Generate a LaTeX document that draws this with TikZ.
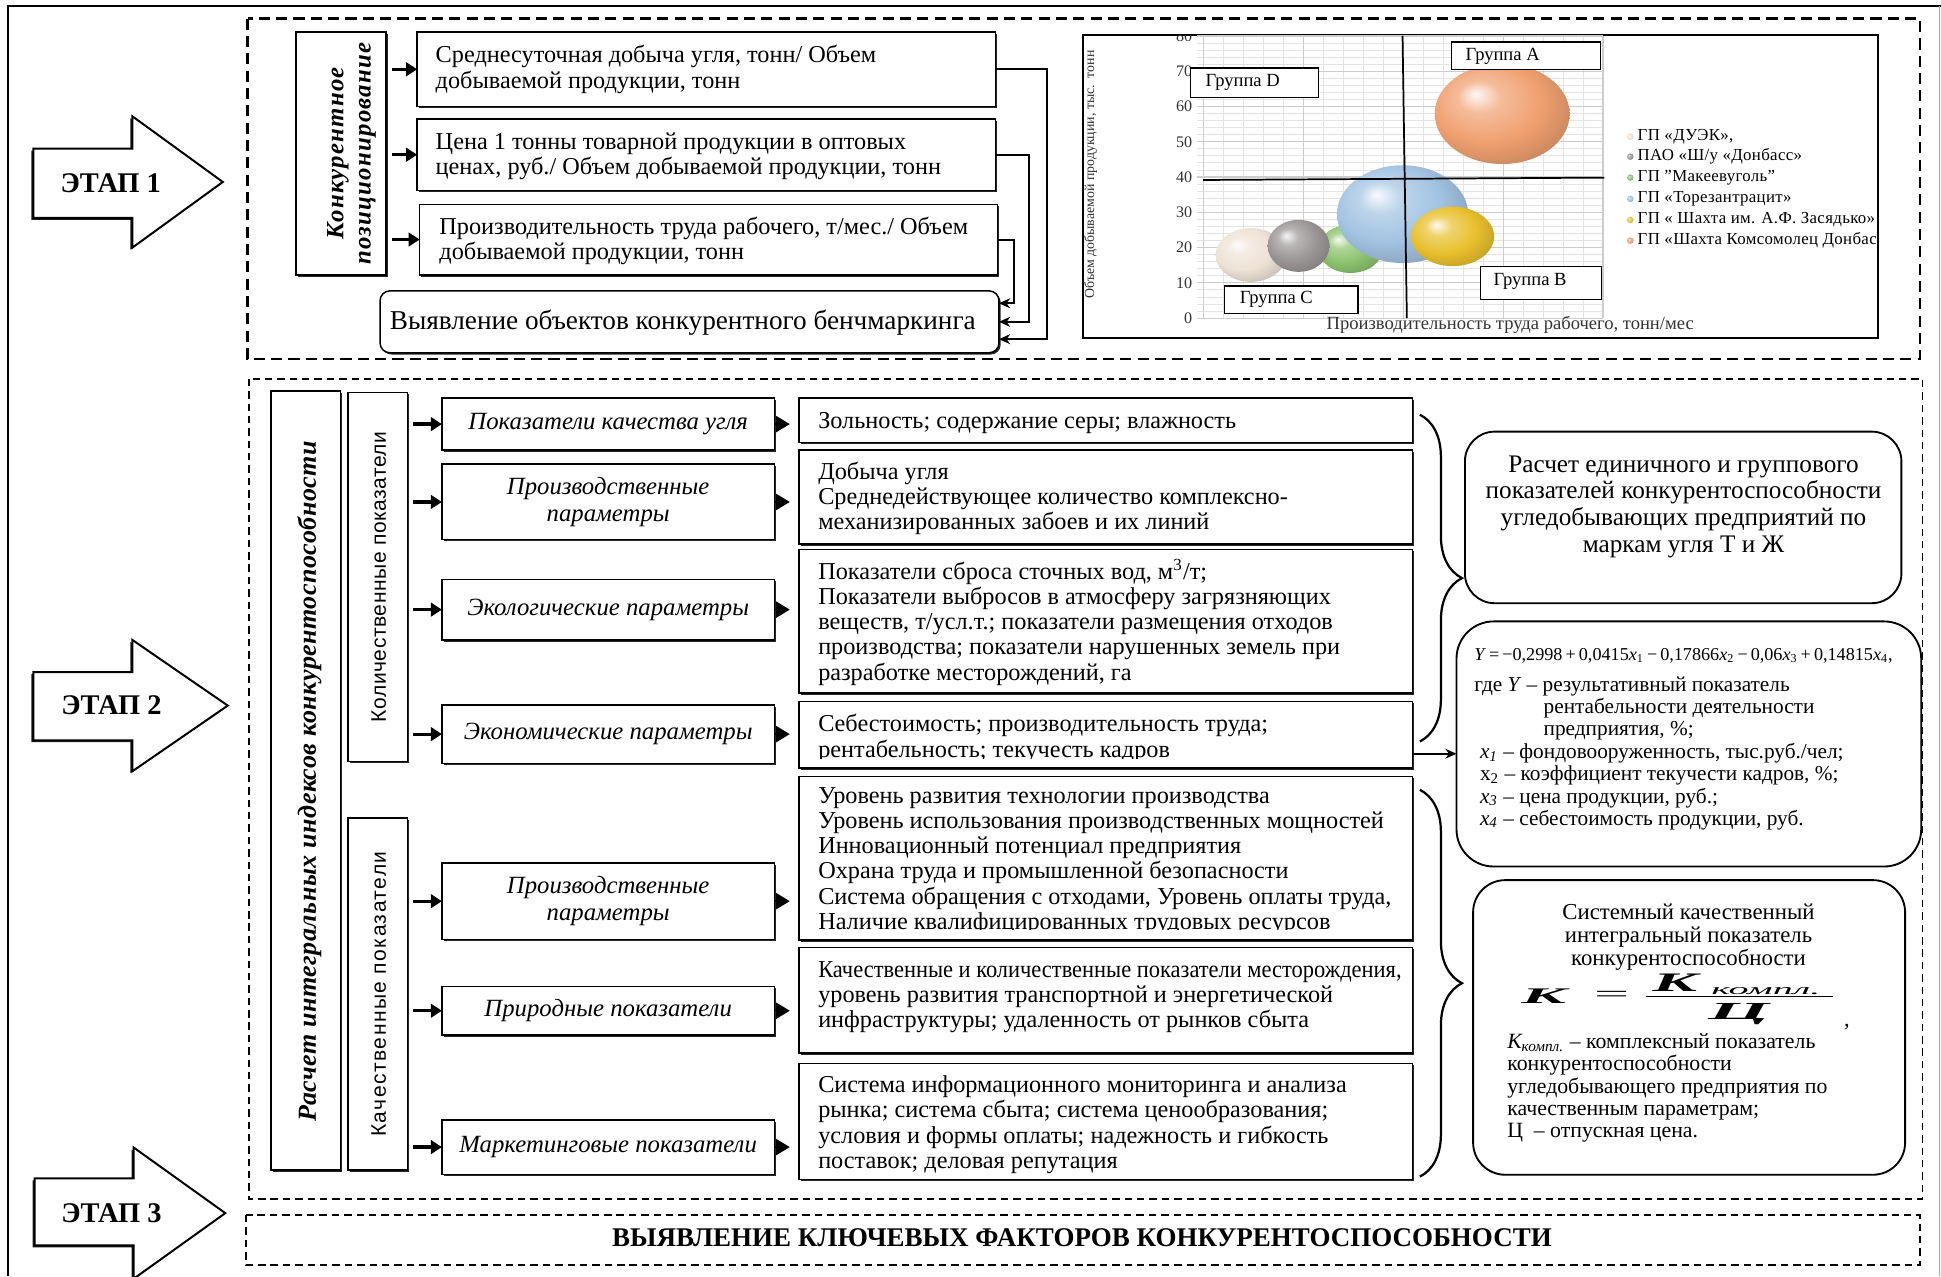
\documentclass[tikz,border=0pt]{standalone}
\usepackage{fontspec}
\setmainfont{Liberation Serif}
\setsansfont{Liberation Sans}
\usepackage{graphicx}
\usetikzlibrary{arrows.meta,shadows,decorations.pathreplacing,calc}
\newcommand\fs[2]{\fontsize{#1}{#2}\selectfont}
\newcommand\rectnode[7]{%
  \pgfmathsetmacro\rnX{(#3+#5)/2}%
  \pgfmathsetmacro\rnY{(#4+#6)/2}%
  \pgfmathsetmacro\rnW{(#5-#3)/2}%
  \pgfmathsetmacro\rnH{(#6-#4)/2}%
  \node[#2, minimum width=\rnW pt, minimum height=\rnH pt] (#1) at (\rnX,\rnY) {#7};}
\makeatletter
\pgfdeclareradialshading[tikz@ball]{softball}{\pgfqpoint{-10bp}{10bp}}{%
  color(0bp)=(tikz@ball!8!white); color(8bp)=(tikz@ball!70!white);
  color(20bp)=(tikz@ball); color(30bp)=(tikz@ball!86!black); color(50bp)=(tikz@ball!62!black)}
\tikzset{bubble/.code={\colorlet{tikz@ball}{#1}\tikzset{shade,shading=softball}}}
\makeatother
\definecolor{bwhite}{RGB}{238,226,214}
\definecolor{bgrey}{RGB}{155,150,150}
\definecolor{bgreen}{RGB}{140,195,110}
\definecolor{bblue}{RGB}{162,195,226}
\definecolor{byellow}{RGB}{232,192,45}
\definecolor{borange}{RGB}{240,160,112}
\definecolor{gridc}{RGB}{228,228,228}
\definecolor{gridm}{RGB}{205,205,205}
\begin{document}
\begin{tikzpicture}[x=0.5pt,y=-0.5pt,
  every node/.style={inner sep=0pt,outer sep=0pt},
  stagedash/.style={line width=0.9pt,dash pattern=on 4.5pt off 2.5pt},
  stagedashb/.style={line width=0.7pt,dash pattern=on 3pt off 2pt},
  pbox/.style={draw,line width=0.6pt,fill=white,drop shadow={shadow xshift=0.7pt,shadow yshift=-0.7pt,fill=black,opacity=0.85}},
  rbox/.style={draw,line width=0.75pt,fill=white},
  body/.style={font=\fs{9.8}{10.2},align=left},
  ital/.style={font=\fs{10}{11}\itshape,align=center},
  sarrow/.style={line width=1.3pt,-{Triangle[length=4.5pt,width=5.5pt]},shorten <=2.5pt},
  tri/.style={line width=0.6pt,-{Triangle[length=5.5pt,width=6.5pt]},shorten >=3.8pt},
  conn/.style={line width=0.8pt,-{Stealth[length=4.5pt,width=4pt]}},
  stagearrow/.style={draw,line width=0.8pt,fill=white,drop shadow={shadow xshift=-0.8pt,shadow yshift=-0.8pt,fill=black,opacity=0.9}},
  stagelabel/.style={font=\fs{11.5}{12}\bfseries},
  gbox/.style={draw,line width=0.5pt,fill=white},
  gtext/.style={font=\fs{7.5}{8}},
  legtext/.style={font=\fs{6.8}{7}\addfontfeature{LetterSpace=2},anchor=west},
  ftext/.style={font=\fs{8.6}{9},align=left,anchor=west}
]
\useasboundingbox (0,0) rectangle (1568,1031);
% outer frame
\draw[line width=0.8pt] (6.5,1031) -- (6.5,4.8) -- (1568,4.8);
\draw[black!35,line width=0.4pt] (1567,4.8) -- (1567,1031);

% stage arrows
\path[stagearrow] (27,120) -- (107,120) -- (107,94) -- (180,147) -- (107,200) -- (107,176) -- (27,176) -- cycle;
\node[stagelabel] (e1) at (89.5,148) {ЭТАП 1};
\path[stagearrow] (27,543) -- (107,543) -- (107,517) -- (184,570) -- (107,623) -- (107,598) -- (27,598) -- cycle;
\node[stagelabel] (e2) at (90,570) {ЭТАП 2};
\path[stagearrow] (28,952) -- (108,952) -- (108,927) -- (182,980) -- (108,1033) -- (108,1006) -- (28,1006) -- cycle;
\node[stagelabel] (e3) at (90,980) {ЭТАП 3};

% stage frames
\draw[stagedash] (200,15) rectangle (1551,290);
\draw[stagedashb] (201,306) rectangle (1553,968.5);
\draw[stagedashb] (199,981.5) rectangle (1551,1022);

% ===== STAGE 1 =====
\rectnode{kp}{pbox}{239}{26}{312}{222}{}
\node[rotate=90,align=center,font=\fs{10}{11}\bfseries\itshape\addfontfeature{LetterSpace=5}] (kpt) at (284,124) {Конкурентное\\позиционирование};
\rectnode{b1}{pbox}{337}{26}{804}{86}{}
\rectnode{b2}{pbox}{337}{96}{804}{154}{}
\rectnode{b3}{pbox}{339}{165}{806}{222}{}
\rectnode{b4}{pbox,rounded corners=4pt}{307}{235}{807}{285}{}
\node[body,anchor=west] (b1t) at (352,56) {Среднесуточная добыча угля, тонн/ Объем\\добываемой продукции, тонн};
\node[body,anchor=west] (b2t) at (352,126) {Цена 1 тонны товарной продукции в оптовых\\ценах, руб./ Объем добываемой продукции, тонн};
\node[body,anchor=west] (b3t) at (355,194.5) {Производительность труда рабочего, т/мес./ Объем\\добываемой продукции, тонн};
\node[font=\fs{11}{12}] (b4t) at (551.6,261) {Выявление объектов конкурентного бенчмаркинга};
\draw[sarrow] (kp.east |- b1.west) -- (b1.west);
\draw[sarrow] (kp.east |- b2.west) -- (b2.west);
\draw[sarrow] (kp.east |- b3.west) -- (b3.west);
\draw[conn] (b1.east) -- ++(42,0) |- ([yshift=-7pt]b4.east);
\draw[conn] (b2.east) -- ++(27,0) |- (b4.east);
\draw[conn] (b3.east) -- ++(13,0) |- ([yshift=7.5pt]b4.east);

% chart
\rectnode{chart}{draw,line width=0.9pt,fill=white}{875}{28}{1517}{273}{}
\begin{scope}
\clip (875.8,28.8) rectangle (1516.2,272.2);
\foreach \i in {0,...,20} \draw[gridc,line width=0.35pt] ({972+\i*16.15},29) -- ({972+\i*16.15},257);
\foreach \i in {0,...,40} \draw[gridc,line width=0.35pt] (967,{257-\i*5.7}) -- (1295,{257-\i*5.7});
\foreach \i in {0,...,4} \draw[gridm,line width=0.5pt] ({972+\i*80.75},29) -- ({972+\i*80.75},257);
\foreach \v in {0,...,8} \draw[gridm,line width=0.5pt] (967,{257-\v*28.5}) -- (1295,{257-\v*28.5});
\foreach \v in {0,10,...,80} \node[anchor=east,font=\fs{6.5}{7},text=black!80] at (963,{257-2.85*\v}) {\v};
\path[bubble=bwhite] (1010.5,206) ellipse [x radius=28.5,y radius=21.7];
\path[bubble=bgreen] (1091,201) ellipse [x radius=26,y radius=19.5];
\path[bubble=bgrey] (1049,198.6) ellipse [x radius=25,y radius=21];
\path[bubble=bblue] (1133,173) ellipse [x radius=53,y radius=39.5];
\path[bubble=byellow] (1173.5,191) ellipse [x radius=33.5,y radius=24];
\path[bubble=borange] (1213.5,92) ellipse [x radius=54.5,y radius=40.5];
\draw[line width=0.7pt] (1133,29) -- (1136.5,257);
\draw[line width=0.7pt] (972,145.4) -- (1296,143.5);
\rectnode{gA}{gbox}{1172.5}{34}{1293}{56}{}
\node[gtext,anchor=west] (gAt) at (1184,45.5) {Группа A};
\rectnode{gD}{gbox}{962}{55}{1065}{79}{}
\node[gtext,anchor=west] (gDt) at (974,66.5) {Группа D};
\rectnode{gB}{gbox}{1196}{215}{1294}{242}{}
\node[gtext,anchor=west] (gBt) at (1206.5,227) {Группа B};
\rectnode{gC}{gbox}{989}{231}{1097}{253}{}
\node[gtext,anchor=west] (gCt) at (1001.5,242) {Группа C};
\node[rotate=90,font=\fs{5.6}{6},text=black!80] (ytitle) at (881,141) {Объем добываемой продукции, тыс.\ \ тонн};
\node[font=\fs{7.5}{8},text=black!80] (xtitle) at (1220,262.5) {Производительность труда рабочего, тонн/мес};
\path[bubble=bwhite] (1317,110.4) circle [radius=2.6];
\node[legtext] (lg1) at (1323,110.4) {ГП «ДУЭК»,};
\path[bubble=bgrey] (1317,126.6) circle [radius=2.6];
\node[legtext] (lg2) at (1323,126.6) {ПАО «Ш/у «Донбасс»};
\path[bubble=bgreen] (1317,143.5) circle [radius=2.6];
\node[legtext] (lg3) at (1323,143.5) {ГП "Макеевуголь"};
\path[bubble=bblue] (1317,160.7) circle [radius=2.6];
\node[legtext] (lg4) at (1323,160.7) {ГП «Торезантрацит»};
\path[bubble=byellow] (1317,177.7) circle [radius=2.6];
\node[legtext] (lg5) at (1323,177.7) {ГП « Шахта им. А.Ф. Засядько»};
\path[bubble=borange] (1317,194.4) circle [radius=2.6];
\node[legtext] (lg6) at (1323,194.4) {ГП «Шахта Комсомолец Донбасса»};
\end{scope}

% ===== STAGE 2 =====
\rectnode{big}{pbox}{219}{316}{275}{945}{}
\node[rotate=90,font=\fs{10.5}{11}\bfseries\itshape\addfontfeature{LetterSpace=2}] (bigt) at (250,631) {Расчет интегральных индексов конкурентоспособности};
\rectnode{kol}{pbox}{281}{317}{329}{615}{}
\node[rotate=90,font=\sffamily\fs{8.5}{10}\addfontfeature{LetterSpace=2.5}] (kolt) at (306,466) {Количественные показатели};
\rectnode{kach}{pbox}{281}{661}{329}{945}{}
\node[rotate=90,font=\sffamily\fs{8.5}{10}\addfontfeature{LetterSpace=7}] (kacht) at (306,803) {Качественные показатели};

\rectnode{L1}{pbox,ital}{357}{321.7}{625.6}{363.5}{Показатели качества угля}
\rectnode{L2}{pbox,ital}{357}{375}{625.6}{436}{Производственные\\параметры}
\rectnode{L3}{pbox,ital}{357}{468}{625.6}{517}{Экологические параметры}
\rectnode{L4}{pbox,ital}{357}{569.5}{625.6}{616.6}{Экономические параметры}
\rectnode{L5}{pbox,ital}{357}{697}{625.6}{759}{Производственные\\параметры}
\rectnode{L6}{pbox,ital}{357}{797}{625.6}{836}{Природные показатели}
\rectnode{L7}{pbox,ital}{357}{904.7}{625.6}{948.6}{Маркетинговые показатели}

\rectnode{R1}{pbox}{645.6}{321.7}{1141}{357.6}{}
\rectnode{R2}{pbox}{645.6}{363.5}{1141}{439.4}{}
\rectnode{R3}{pbox}{645.6}{444}{1141}{560}{}
\rectnode{R4}{pbox}{645.6}{566.8}{1141}{620.6}{}
\rectnode{R5}{pbox}{645.6}{627.4}{1141}{759.3}{}
\rectnode{R6}{pbox}{645.6}{765.5}{1141}{850.8}{}
\rectnode{R7}{pbox}{645.6}{859}{1141}{953}{}

\node[body,anchor=west] (R1t) at (661,342) {Зольность; содержание серы; влажность};
\node[body,anchor=west] (R2t) at (661,402.5) {Добыча угля\\Среднедействующее количество комплексно-\\механизированных забоев и их линий};
\node[body,anchor=west] (R3t) at (661,502.5) {Показатели сброса сточных вод, м\textsuperscript{3}/т;\\Показатели выбросов в атмосферу загрязняющих\\веществ, т/усл.т.; показатели размещения отходов\\производства; показатели нарушенных земель при\\разработке месторождений, га};
\begin{scope}
\clip (646,567) rectangle (1140,613);
\node[body,anchor=west] (R4t) at (661,596.5) {Себестоимость; производительность труда;\\рентабельность; текучесть кадров};
\end{scope}
\begin{scope}
\clip (646,628) rectangle (1140,751);
\node[body,anchor=west] (R5t) at (661,695.5) {Уровень развития технологии производства\\Уровень использования производственных мощностей\\Инновационный потенциал предприятия\\Охрана труда и промышленной безопасности\\Система обращения с отходами, Уровень оплаты труда,\\Наличие квалифицированных трудовых ресурсов};
\end{scope}
\node[body,anchor=west] (R6t) at (661,805.5) {\scalebox{0.925}[1]{Качественные и количественные показатели месторождения,}\\уровень развития транспортной и энергетической\\инфраструктуры; удаленность от рынков сбыта};
\node[body,anchor=west] (R7t) at (661,908.5) {Система информационного мониторинга и анализа\\рынка; система сбыта; система ценообразования;\\условия и формы оплаты; надежность и гибкость\\поставок; деловая репутация};

\foreach \n in {1,2,3,4} \draw[sarrow] (kol.east |- L\n.west) -- (L\n.west);
\foreach \n in {5,6,7} \draw[sarrow] (kach.east |- L\n.west) -- (L\n.west);
\foreach \n in {1,...,7} \draw[tri] (L\n.east) -- (L\n.east -| R\n.west);

% braces
\draw[line width=0.9pt,decorate,decoration={brace,amplitude=17pt,aspect=0.5}] (1147,335) -- (1147,599);
\draw[line width=0.9pt,decorate,decoration={brace,amplitude=17pt,aspect=0.5}] (1147,638) -- (1147,950.5);

% right boxes
\rectnode{A}{rbox,rounded corners=12pt}{1183.4}{348.7}{1536}{487.3}{}
\node[align=center,font=\fs{10.2}{10.75}] (At) at (1360,409.3) {Расчет единичного и группового\\показателей конкурентоспособности\\угледобывающих предприятий по\\маркам угля Т и Ж};

\rectnode{F}{rbox,rounded corners=15pt}{1176.6}{502}{1552}{700}{}
\node[anchor=west] (fl1) at (1191,530) {\resizebox{169pt}{!}{\fs{9}{9}\textit{Y}\,=\,−0,2998\,+\,0,0415\textit{x}\textsubscript{1}\,−\,0,17866\textit{x}\textsubscript{2}\,−\,0,06\textit{x}\textsubscript{3}\,+\,0,14815\textit{x}\textsubscript{4},}};
\node[ftext] (fl2) at (1191,554.7) {где \textit{Y} – результативный показатель};
\node[ftext] (fl3) at (1247,581) {рентабельности деятельности\\предприятия, \%;};
\node[ftext] (fl4) at (1195.6,635.5) {\textit{x\textsubscript{1}} – фондовооруженность, тыс.руб./чел;\\x\textsubscript{2} – коэффициент текучести кадров, \%;\\\textit{x\textsubscript{3}} – цена продукции, руб.;\\\textit{x\textsubscript{4}} – себестоимость продукции, руб.};
\coordinate (r4o) at ([yshift=-7.6pt]R4.east);
\draw[conn] (r4o) -- (r4o -| F.west);

\rectnode{KB}{rbox,rounded corners=13pt}{1190}{711}{1539}{949}{}
\node[align=center,font=\fs{9.2}{9.2}] (kh) at (1364,757) {Системный качественный\\интегральный показатель\\конкурентоспособности};
\node (kK) at (1247,805) {\fs{9}{9}\scalebox{3}[1]{\bfseries\itshape K}};
\node (keq) at (1302,805) {\fs{9}{9}\scalebox{2.8}[1]{=}};
\draw[line width=0.6pt] (1330,805) -- (1481,805);
\node (knK) at (1353,794) {\fs{9}{9}\scalebox{3}[1.2]{\bfseries\itshape K}};
\node (knS) at (1426.5,801) {\fs{6}{6}\scalebox{2.7}[1]{\itshape компл.}};
\node (kden) at (1404.5,819) {\fs{9}{9}\scalebox{3.5}[1.1]{\bfseries\itshape Ц}};
\node[font=\fs{9}{9}] (kcom) at (1492,830) {,};
\node[ftext,font=\fs{8.8}{9}] (kd) at (1217.6,879) {\textit{К\textsubscript{компл.}} – комплексный показатель\\конкурентоспособности\\угледобывающего предприятия по\\качественным параметрам;\\Ц~ – отпускная цена.};

% ===== STAGE 3 =====
\node[font=\fs{10.9}{12}\bfseries] (s3t) at (874,1000) {ВЫЯВЛЕНИЕ КЛЮЧЕВЫХ ФАКТОРОВ КОНКУРЕНТОСПОСОБНОСТИ};
\end{tikzpicture}
\end{document}
